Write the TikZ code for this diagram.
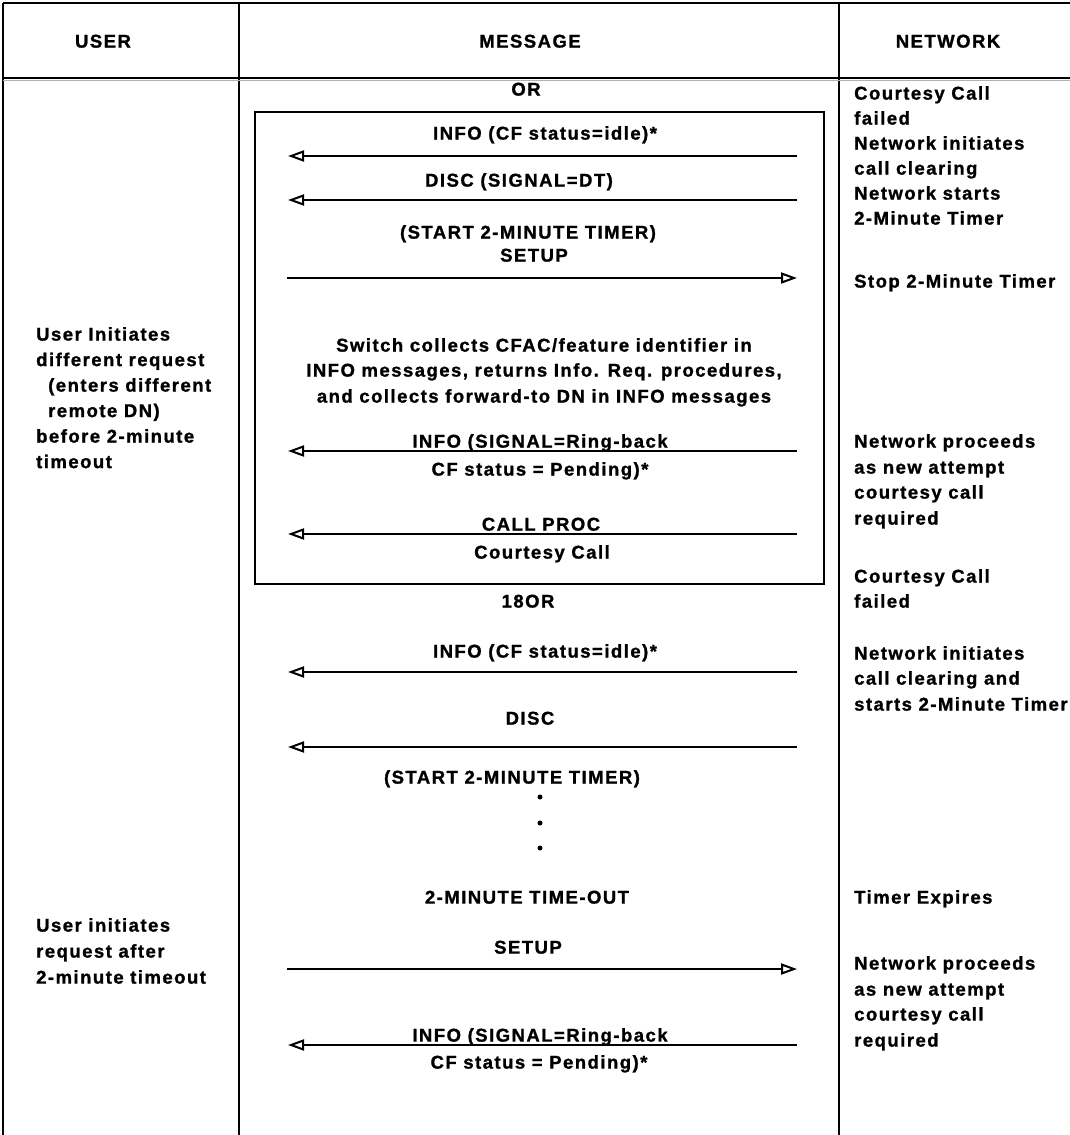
\documentclass[tikz,border=0pt]{standalone}
\usepackage{fontspec}
\setmainfont{Liberation Sans}[LetterSpace=8,BoldFeatures={FakeBold=1.2}]
\usetikzlibrary{arrows.meta}
\begin{document}
\begin{tikzpicture}[x=1pt,y=-1pt,
  lbl/.style={font=\fontsize{18.5}{22}\selectfont\bfseries, inner sep=0pt,
              text height=13.2pt, text depth=0pt},
  mtxt/.style={lbl, anchor=center},
  ltxt/.style={lbl, anchor=west},
  rule/.style={line width=2pt, black},
  msg/.style={line width=1.8pt, -{Triangle[open, length=16pt, width=11pt, line width=2pt]}},
  dotmark/.style={circle, fill=black, inner sep=0pt, minimum size=5pt}]

\useasboundingbox (0,0) rectangle (1070,1135);

% table frame
\draw[line width=2.5pt] (3,3) -- (1072,3);
\draw[rule] (3,3) -- (3,1136);
\draw[rule] (239,3) -- (239,1136);
\draw[rule] (839,3) -- (839,1136);
\draw[line width=2.5pt] (3,78) -- (1072,78);
\draw[line width=1pt, gray!60] (3,80.5) -- (1072,80.5);

% header
\node[mtxt] (hUser) at (103,41) {USER};
\node[mtxt] (hMsg)  at (530,41) {MESSAGE};
\node[mtxt] (hNet)  at (948,41) {NETWORK};

% alternative block
\node[mtxt] (or1) at (526,89) {OR};
\draw[rule] (255,112) rectangle (824,584);

\coordinate (uA) at (288,156); \coordinate (nA) at (797,156);
\node[mtxt] (mA) at (545,133) {INFO (CF status=idle)*};
\draw[msg] (nA) -- (uA);

\coordinate (uB) at (288,200); \coordinate (nB) at (797,200);
\node[mtxt] (mB) at (519,180) {DISC (SIGNAL=DT)};
\draw[msg] (nB) -- (uB);

\node[mtxt] (mC1) at (528,232) {(START 2-MINUTE TIMER)};
\node[mtxt] (mC2) at (534,255) {SETUP};
\coordinate (uC) at (287,278); \coordinate (nC) at (797,278);
\draw[msg] (uC) -- (nC);

\node[mtxt] (sw1) at (544,345) {Switch collects CFAC/feature identifier in};
\node[mtxt] (sw2) at (544,370) {INFO messages, returns Info. Req. procedures,};
\node[mtxt] (sw3) at (544,396) {and collects forward-to DN in INFO messages};

\node[mtxt] (mD1) at (540,441) {INFO (SIGNAL=Ring-back};
\coordinate (uD) at (288,451); \coordinate (nD) at (797,451);
\draw[msg] (nD) -- (uD);
\node[mtxt] (mD2) at (540,469) {CF status = Pending)*};

\node[mtxt] (mE1) at (541,524) {CALL PROC};
\coordinate (uE) at (288,534); \coordinate (nE) at (797,534);
\draw[msg] (nE) -- (uE);
\node[mtxt] (mE2) at (542,552) {Courtesy Call};

% second alternative
\node[mtxt] (or2) at (528,601) {18OR};
\node[mtxt] (mF) at (545,651) {INFO (CF status=idle)*};
\coordinate (uF) at (288,672); \coordinate (nF) at (797,672);
\draw[msg] (nF) -- (uF);

\node[mtxt] (mG) at (530,718) {DISC};
\coordinate (uG) at (288,747); \coordinate (nG) at (797,747);
\draw[msg] (nG) -- (uG);

\node[mtxt] (mH) at (512,777) {(START 2-MINUTE TIMER)};
\node[dotmark] (d1) at (540,797) {};
\node[dotmark] (d2) at (540,823) {};
\node[dotmark] (d3) at (540,848) {};
\node[mtxt] (mI) at (527,897) {2-MINUTE TIME-OUT};

\node[mtxt] (mJ) at (528,947) {SETUP};
\coordinate (uJ) at (287,969); \coordinate (nJ) at (797,969);
\draw[msg] (uJ) -- (nJ);

\node[mtxt] (mK1) at (540,1035) {INFO (SIGNAL=Ring-back};
\coordinate (uK) at (288,1045); \coordinate (nK) at (797,1045);
\draw[msg] (nK) -- (uK);
\node[mtxt] (mK2) at (539,1062) {CF status = Pending)*};

% user column
\node[ltxt] (u1) at (36,334) {User Initiates};
\node[ltxt] (u2) at (36,359.5) {different request};
\node[ltxt] (u3) at (48,385) {(enters different};
\node[ltxt] (u4) at (48,410.5) {remote DN)};
\node[ltxt] (u5) at (36,436) {before 2-minute};
\node[ltxt] (u6) at (36,461.5) {timeout};

\node[ltxt] (u7) at (36,925) {User initiates};
\node[ltxt] (u8) at (36,951) {request after};
\node[ltxt] (u9) at (36,977) {2-minute timeout};

% network column
\node[ltxt] (n1) at (854,93)  {Courtesy Call};
\node[ltxt] (n2) at (854,118) {failed};
\node[ltxt] (n3) at (854,143) {Network initiates};
\node[ltxt] (n4) at (854,168) {call clearing};
\node[ltxt] (n5) at (854,193) {Network starts};
\node[ltxt] (n6) at (854,218) {2-Minute Timer};
\node[ltxt] (n7) at (854,281) {Stop 2-Minute Timer};

\node[ltxt] (n8)  at (854,441) {Network proceeds};
\node[ltxt] (n9)  at (854,467) {as new attempt};
\node[ltxt] (n10) at (854,492) {courtesy call};
\node[ltxt] (n11) at (854,518) {required};

\node[ltxt] (n12) at (854,576) {Courtesy Call};
\node[ltxt] (n13) at (854,601) {failed};

\node[ltxt] (n14) at (854,653) {Network initiates};
\node[ltxt] (n15) at (854,678) {call clearing and};
\node[ltxt] (n16) at (854,704) {starts 2-Minute Timer};

\node[ltxt] (n17) at (854,897) {Timer Expires};

\node[ltxt] (n18) at (854,963)  {Network proceeds};
\node[ltxt] (n19) at (854,989)  {as new attempt};
\node[ltxt] (n20) at (854,1014) {courtesy call};
\node[ltxt] (n21) at (854,1040) {required};

\end{tikzpicture}
\end{document}
